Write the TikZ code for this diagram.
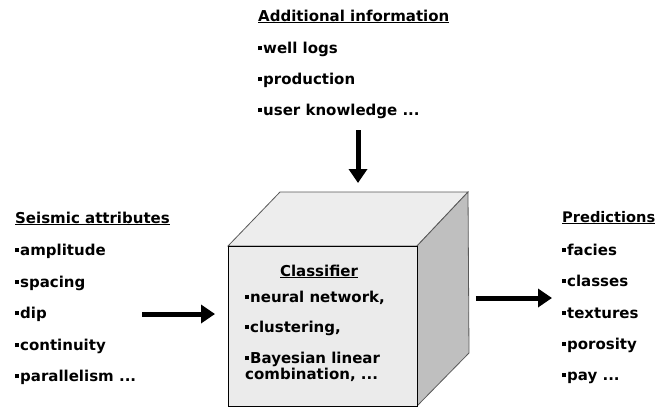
\documentclass[tikz,border=0pt]{standalone}
\usepackage{fontspec}
\setmainfont{DejaVu Sans}
\usetikzlibrary{arrows.meta}
\newcommand{\bul}{\raisebox{0.2em}{\rule{0.28em}{0.28em}}\hspace{0.05em}}
\tikzset{
  txt/.style={anchor=base west, inner sep=0pt, font=\fontsize{15}{18}\bfseries\selectfont},
  bigarrow/.style={line width=5pt, -{Triangle[length=14pt,width=18pt]}},
  cubeedge/.style={draw=black!65, line width=0.8pt},
}
\begin{document}
\begin{tikzpicture}[x=1pt,y=1pt]
  \useasboundingbox (0,0) rectangle (659,-407);

  % cube: top and side faces
  \path[cubeedge, fill=black!7] (228,-246) -- (280,-192) -- (468,-192) -- (417,-246) -- cycle;
  \path[cubeedge, fill=black!25] (417,-246) -- (468,-192) -- (469,-353) -- (417,-406) -- cycle;
  % cube: front face
  \node[draw=black, line width=0.8pt, fill=black!8, minimum width=189pt, minimum height=160pt,
        inner sep=0pt, anchor=north west] (front) at (228,-246) {};

  % additional information
  \node[txt] (infoH) at (258,-21) {\underline{Additional information}};
  \node[txt] (info1) at (258,-53) {\bul well logs};
  \node[txt] (info2) at (258,-84) {\bul production};
  \node[txt] (info3) at (258,-115) {\bul user knowledge ...};

  % seismic attributes
  \node[txt] (seisH) at (15,-223) {\underline{Seismic attributes}};
  \node[txt] (seis1) at (15,-255) {\bul amplitude};
  \node[txt] (seis2) at (15,-287) {\bul spacing};
  \node[txt] (seis3) at (15,-318) {\bul dip};
  \node[txt] (seis4) at (15,-350) {\bul continuity};
  \node[txt] (seis5) at (15,-381) {\bul parallelism ...};

  % predictions
  \node[txt, font=\fontsize{14.6}{18}\bfseries\selectfont] (predH) at (562,-222) {\underline{Predictions}};
  \node[txt] (pred1) at (562,-255) {\bul facies};
  \node[txt] (pred2) at (562,-286) {\bul classes};
  \node[txt] (pred3) at (562,-318) {\bul textures};
  \node[txt] (pred4) at (562,-349) {\bul porosity};
  \node[txt] (pred5) at (562,-380) {\bul pay ...};

  % classifier text
  \node[txt, anchor=base] (clH) at (319,-276) {\underline{Classifier}};
  \node[txt] (cl1) at (245,-302) {\bul neural network,};
  \node[txt] (cl2) at (245,-332) {\bul clustering,};
  \node[txt] (cl3) at (245,-363) {\bul Bayesian linear};
  \node[txt] (cl4) at (245,-379) {combination, ...};

  % arrows
  \coordinate (topA) at (358,-130);
  \coordinate (topB) at (358,-183);
  \coordinate (leftA) at (142,-314);
  \coordinate (rightB) at (552,-298);
  \draw[bigarrow] (topA) -- (topB);
  \draw[bigarrow, shorten >=13pt] (leftA) -- (leftA -| front.west);
  \draw[bigarrow, shorten <=58pt] (rightB -| front.east) -- (rightB);
\end{tikzpicture}
\end{document}
